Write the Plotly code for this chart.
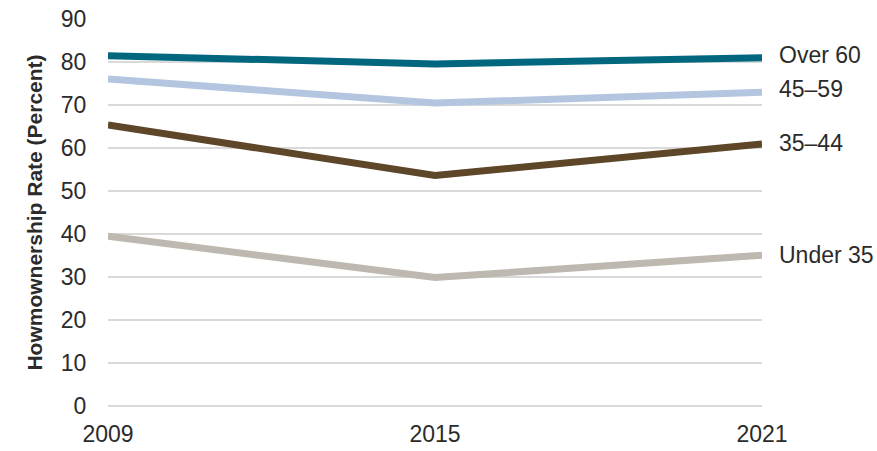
import plotly.graph_objects as go

years = [2009, 2015, 2021]
series_names = ["Over 60", "45–59", "35–44", "Under 35"]
over_60 = [81.4, 79.5, 80.9]
age_45_59 = [76.0, 70.4, 72.9]
age_35_44 = [65.3, 53.6, 60.9]
under_35 = [39.5, 29.9, 35.1]
series_values = [over_60, age_45_59, age_35_44, under_35]
colors = ["#00677f", "#b4c6df", "#5e4628", "#bdb9b1"]
label_shift = [3, 3, 1, 0]
y_ticks = [0, 10, 20, 30, 40, 50, 60, 70, 80, 90]

font_family = "Liberation Sans, Arial, sans-serif"
text_color = "#2b2b2b"
grid_color = "#d9d9d9"

fig = go.Figure()
for name, vals, color in zip(series_names, series_values, colors):
    fig.add_trace(go.Scatter(
        x=years, y=vals, mode="lines", name=name,
        line=dict(color=color, width=7),
        cliponaxis=False, showlegend=False,
    ))

annotations = []
for name, vals, shift in zip(series_names, series_values, label_shift):
    annotations.append(dict(
        x=years[-1], y=vals[-1], xref="x", yref="y",
        text=name, showarrow=False, xanchor="left", yanchor="middle",
        xshift=15, yshift=shift,
        font=dict(family=font_family, size=23, color=text_color),
    ))

fig.update_layout(
    width=877, height=451,
    margin=dict(l=108, r=115, t=18, b=44),
    paper_bgcolor="white", plot_bgcolor="white",
    font=dict(family=font_family, size=23, color=text_color),
    annotations=annotations,
    xaxis=dict(
        range=[2009, 2021], tickvals=years, ticktext=[str(y) for y in years],
        showgrid=False, zeroline=False, showline=False, automargin=False,
        ticks="outside", ticklen=6, tickcolor="rgba(0,0,0,0)",
    ),
    yaxis=dict(
        range=[-0.15, 90.15], tickvals=y_ticks,
        showgrid=True, gridcolor=grid_color, gridwidth=2,
        zeroline=True, zerolinecolor=grid_color, zerolinewidth=2,
        showline=False, automargin=False,
        ticks="outside", ticklen=16, tickcolor="rgba(0,0,0,0)",
        title=dict(text="<b>Howmownership Rate (Percent)</b>",
                   font=dict(family=font_family, size=21, color=text_color),
                   standoff=12),
    ),
)

fig.write_html("out.html")
